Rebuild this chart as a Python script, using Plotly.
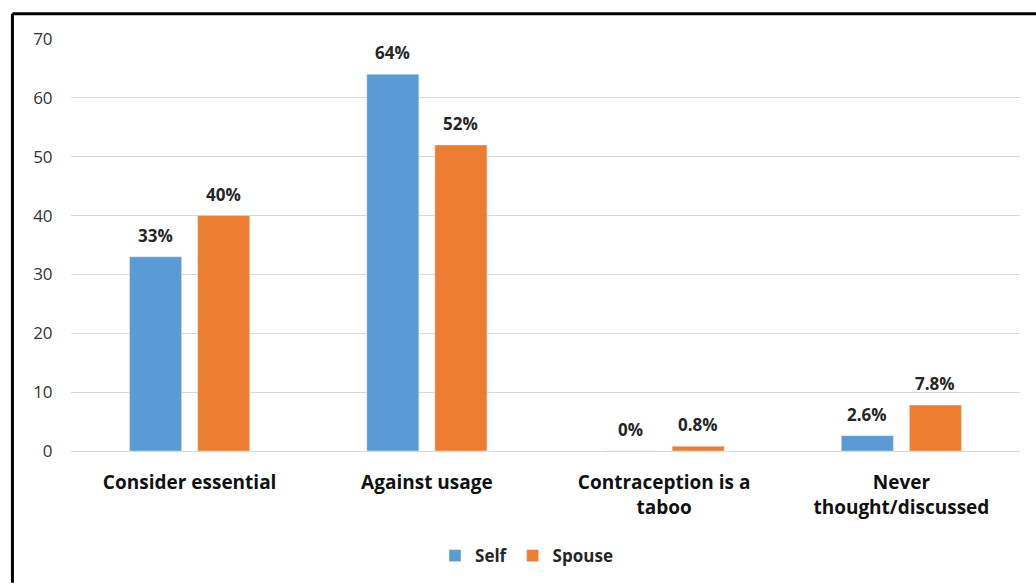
import plotly.graph_objects as go

categories = ["Consider essential", "Against usage", "Contraception is a<br>taboo", "Never<br>thought/discussed"]
self_values = [33, 64, 0, 2.6]
spouse_values = [40, 52, 0.8, 7.8]
self_labels = ["33%", "64%", "0%", "2.6%"]
spouse_labels = ["40%", "52%", "0.8%", "7.8%"]

BLUE = "#5B9BD5"
ORANGE = "#ED7D31"
FONT = "'Open Sans', Lato, sans-serif"

fig = go.Figure()
fig.add_trace(go.Bar(name="Self", x=categories, y=self_values, marker_color=BLUE,
                     offsetgroup="self"))
fig.add_trace(go.Bar(name="Spouse", x=categories, y=spouse_values, marker_color=ORANGE,
                     offsetgroup="spouse"))

# value labels above each bar
bar_offset = 0.5 * (1 - 0.426) / 2
for i, cat in enumerate(categories):
    for vals, labs, sign in ((self_values, self_labels, -1), (spouse_values, spouse_labels, 1)):
        fig.add_annotation(x=i + sign * bar_offset, y=vals[i], xref="x", yref="y",
                           text=labs[i], showarrow=False, yanchor="bottom", yshift=8,
                           font=dict(family=FONT, size=17, color="#262626", weight="bold"))

# outer frame: top and left edges, running off the right and bottom of the page
frame = dict(color="black", width=3)
fig.add_shape(type="line", xref="paper", yref="paper",
              x0=-0.0617, x1=1.0169, y0=1.0615, y1=1.0615, line=frame, layer="above")
fig.add_shape(type="line", xref="paper", yref="paper",
              x0=-0.0617, x1=-0.0617, y0=-0.32, y1=1.0615, line=frame, layer="above")

fig.update_layout(
    width=1036, height=585,
    margin=dict(l=71, r=16, t=39, b=133),
    paper_bgcolor="white", plot_bgcolor="white",
    bargap=0.426, bargroupgap=0.235, barmode="group",
    font=dict(family=FONT, color="#262626"),
    legend=dict(orientation="h", x=0.48, xanchor="center", y=-0.252, yanchor="middle",
                font=dict(family=FONT, size=17, color="#262626", weight="bold"),
                itemwidth=30, traceorder="normal"),
    showlegend=True,
)
fig.update_xaxes(type="category", tickfont=dict(family=FONT, size=19, color="#111", weight="bold"),
                 ticks="outside", ticklen=14, tickcolor="rgba(0,0,0,0)",
                 showline=False, showgrid=False)
fig.update_yaxes(range=[0, 70], dtick=10, showgrid=True, gridcolor="#D9D9D9", gridwidth=1,
                 zeroline=True, zerolinecolor="#D9D9D9", zerolinewidth=1,
                 tickfont=dict(family=FONT, size=17, color="#333"),
                 ticks="outside", ticklen=14, tickcolor="rgba(0,0,0,0)", showline=False)

fig.write_html("out.html")
